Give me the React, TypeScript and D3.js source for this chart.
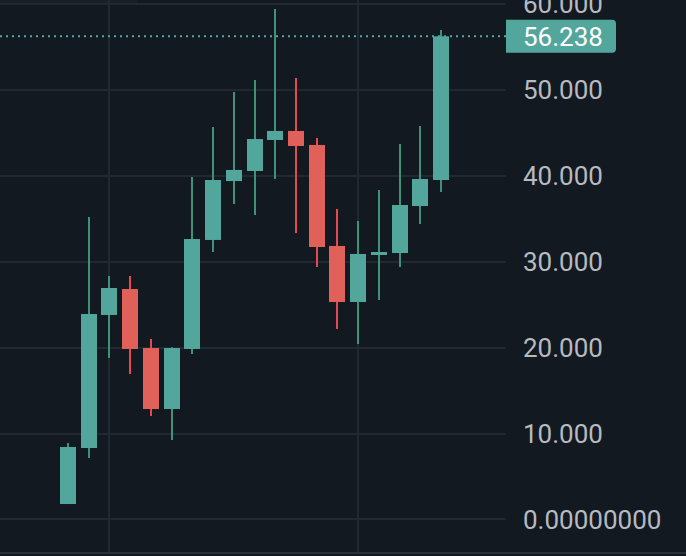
import React, { useEffect, useRef } from "react";
import * as d3 from "d3";

// ---- data ----
const opens = [1.79, 8.31, 23.8, 26.82, 19.95, 12.85, 19.84, 32.53, 39.39, 40.56, 44.17, 45.22, 43.59, 31.83, 25.31, 30.78, 31.01, 36.48, 39.51];
const highs = [8.89, 35.2, 28.34, 28.34, 21.0, 20.05, 39.86, 45.68, 49.76, 51.15, 59.42, 51.39, 44.4, 36.14, 34.74, 38.35, 43.7, 45.8, 56.97];
const lows = [1.79, 7.15, 18.79, 16.93, 12.04, 9.24, 19.25, 31.13, 36.72, 35.44, 39.63, 33.34, 29.38, 22.17, 20.42, 25.54, 29.38, 34.39, 38.11];
const closes = [8.43, 23.91, 26.94, 19.84, 12.85, 19.95, 32.64, 39.51, 40.68, 44.28, 45.22, 43.47, 31.71, 25.31, 30.9, 31.13, 36.6, 39.63, 56.238];
const priceTicks = [0, 10, 20, 30, 40, 50, 60];
const priceTickLabels = ["0.00000000", "10.000", "20.000", "30.000", "40.000", "50.000", "60.000"];
const timeGridIndex = [2, 14];
const lastPrice = 56.238;
const lastPriceLabel = "56.238";

const W = 686;
const H = 556;

export default function App() {
  const ref = useRef<SVGSVGElement>(null);

  useEffect(() => {
    const svg = d3.select(ref.current);
    svg.selectAll("*").remove();

    const bg = "#121920";
    const grid = "#212930";
    const upBody = "#53a69b";
    const upWick = "#3f9279";
    const downBody = "#e0615a";
    const downWick = "#e6494f";
    const paneRight = 506;

    const candles = opens.map((o, i) => ({ i, o, h: highs[i], l: lows[i], c: closes[i] }));

    const x = d3.scaleLinear().domain([0, 18]).range([68, 441]);
    const y = d3.scaleLinear().domain([0, 60]).range([519.4, 4]);
    const bodyW = 16;

    svg.append("rect").attr("width", W).attr("height", H).attr("fill", bg);
    svg.append("rect").attr("width", 137).attr("height", 3).attr("fill", "#182027");

    // grid
    svg.append("g")
      .selectAll("line")
      .data(priceTicks)
      .join("line")
      .attr("x1", 0)
      .attr("x2", paneRight)
      .attr("y1", (d) => Math.round(y(d)))
      .attr("y2", (d) => Math.round(y(d)))
      .attr("stroke", grid)
      .attr("stroke-width", 2);

    svg.append("g")
      .selectAll("line")
      .data(timeGridIndex)
      .join("line")
      .attr("x1", (d) => Math.round(x(d)))
      .attr("x2", (d) => Math.round(x(d)))
      .attr("y1", 0)
      .attr("y2", 552)
      .attr("stroke", grid)
      .attr("stroke-width", 2);

    // bottom border
    svg.append("line")
      .attr("x1", 0).attr("x2", W)
      .attr("y1", 553).attr("y2", 553)
      .attr("stroke", "#2a3138")
      .attr("stroke-width", 2);

    // last price line
    svg.append("line")
      .attr("x1", 0).attr("x2", paneRight)
      .attr("y1", y(lastPrice)).attr("y2", y(lastPrice))
      .attr("stroke", upBody)
      .attr("stroke-width", 2)
      .attr("stroke-dasharray", "2 4");

    // candles
    const g = svg.append("g");
    g.selectAll("line.wick")
      .data(candles)
      .join("line")
      .attr("class", "wick")
      .attr("x1", (d) => Math.round(x(d.i)))
      .attr("x2", (d) => Math.round(x(d.i)))
      .attr("y1", (d) => y(d.h))
      .attr("y2", (d) => y(d.l))
      .attr("stroke", (d) => (d.c >= d.o ? upWick : downWick))
      .attr("stroke-width", 2);

    g.selectAll("rect.body")
      .data(candles)
      .join("rect")
      .attr("class", "body")
      .attr("x", (d) => Math.round(x(d.i)) - bodyW / 2)
      .attr("width", bodyW)
      .attr("y", (d) => y(Math.max(d.o, d.c)))
      .attr("height", (d) => Math.max(2, Math.abs(y(d.o) - y(d.c))))
      .attr("fill", (d) => (d.c >= d.o ? upBody : downBody));

    // price axis labels
    svg.append("g")
      .selectAll("text")
      .data(priceTicks)
      .join("text")
      .attr("x", 523)
      .attr("y", (d) => y(d))
      .attr("dy", "0.36em")
      .attr("fill", "#b6bac1")
      .style("font-family", "Roboto, sans-serif")
      .style("font-size", "26px")
      .text((d, i) => priceTickLabels[i]);

    // last price tag
    const ly = y(lastPrice);
    svg.append("path")
      .attr("d", `M${paneRight},${ly - 16.5} H612 Q616,${ly - 16.5} 616,${ly - 12.5} V${ly + 12.5} Q616,${ly + 16.5} 612,${ly + 16.5} H${paneRight} Z`)
      .attr("fill", upBody);
    svg.append("text")
      .attr("x", 523)
      .attr("y", ly)
      .attr("dy", "0.36em")
      .attr("fill", "#ffffff")
      .style("font-family", "Roboto, sans-serif")
      .style("font-size", "26px")
      .text(lastPriceLabel);
  }, []);

  return (
    <svg
      ref={ref}
      width={W}
      height={H}
      style={{ position: "absolute", left: 0, top: 0, display: "block" }}
    />
  );
}
